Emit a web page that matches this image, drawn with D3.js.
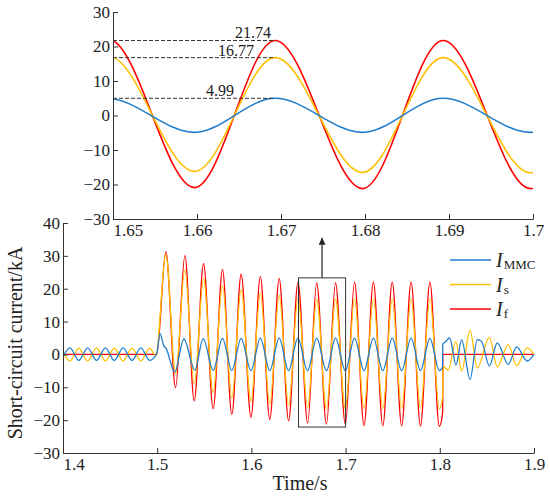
<!DOCTYPE html>
<html>
<head>
<meta charset="utf-8">
<script src="https://d3js.org/d3.v7.min.js"></script>
<style>
  body { margin: 0; background: #fff; }
  svg { font-family: "Liberation Serif", "Times New Roman", serif; }
  .axis path, .axis line { stroke: #333; stroke-width: 1; }
  .axis text { font-size: 17px; fill: #222; font-family: "Liberation Serif", serif; }
  .wave { fill: none; }
</style>
</head>
<body>
<script>

// waveform break points: [time (s), current (kA)]
// (peaks, troughs and switching instants; drawn with a monotone curve)
var iMMC = [
  [1.4, -0.6], [1.4074, 2.0], [1.4168, -1.8], [1.4262, 2.0], [1.4356, -1.8],
  [1.445, 2.0], [1.4544, -1.8], [1.4638, 2.0], [1.4732, -1.8], [1.4826, 2.0],
  [1.492, -1.8], [1.4995, 0.3], [1.503, 6.4], [1.5065, 3.0], [1.5105, 1.2],
  [1.514, -2.2], [1.5185, -5.4], [1.5283, 4.7], [1.540, -4.8], [1.5488, 4.8],
  [1.5594, -4.8], [1.5693, 4.9], [1.5792, -4.9], [1.5891, 4.9], [1.5995, -4.9],
  [1.6095, 4.95], [1.6195, -4.9], [1.6295, 4.99], [1.6395, -4.9], [1.6493, 4.99],
  [1.6597, -4.9], [1.6693, 4.99], [1.6797, -4.9], [1.6893, 4.99], [1.6997, -4.9],
  [1.7095, 4.99], [1.7195, -4.9], [1.7295, 4.99], [1.7395, -4.9], [1.7495, 4.99],
  [1.7595, -4.9], [1.7695, 4.99], [1.7795, -4.9], [1.7895, 4.9], [1.7995, -4.9],
  [1.8029, -3.8], [1.8032, 3.2], [1.806, 3.8], [1.8105, 5.0], [1.8172, -3.2],
  [1.8232, 4.4], [1.8321, -7.6], [1.8398, 4.5], [1.8445, 3.9], [1.8526, -3.5],
  [1.861, 3.5], [1.8727, -3.0], [1.8816, 2.3], [1.8929, -2.0], [1.9, 0]
];

var iS = [
  [1.4, 0.6], [1.4074, -2.0], [1.4168, 1.9], [1.4262, -2.0], [1.4356, 1.9],
  [1.445, -2.0], [1.4544, 1.9], [1.4638, -2.0], [1.4732, 1.9], [1.4826, -2.0],
  [1.492, 1.9], [1.4985, -0.4], [1.5092, 30.3], [1.5195, -6.0], [1.5294, 25.8],
  [1.5393, -9.1], [1.5492, 22.9], [1.5594, -11.6], [1.5693, 21.0], [1.5792, -13.4],
  [1.5891, 19.7], [1.5995, -14.3], [1.6095, 18.7], [1.6195, -15.2], [1.6295, 18.0],
  [1.6395, -15.5], [1.6495, 17.2], [1.6597, -16.2], [1.6693, 16.77], [1.6797, -16.5],
  [1.6893, 16.77], [1.6997, -16.6], [1.7095, 16.9], [1.7195, -16.5], [1.7295, 16.9],
  [1.7395, -16.5], [1.7495, 16.9], [1.7595, -16.5], [1.7695, 16.9], [1.7795, -16.5],
  [1.7895, 16.9], [1.7995, -16.6], [1.8031, -12.5], [1.8033, -3.6], [1.809, -4.8],
  [1.8169, 4.0], [1.8232, -5.0], [1.8321, 7.3], [1.8398, -4.1], [1.8526, 5.2],
  [1.861, -3.8], [1.8727, 3.0], [1.8816, -3.4], [1.8929, 2.0], [1.9, 0]
];

var iF = [
  [1.4, 0], [1.4995, 0], [1.5092, 31.3], [1.5195, -10.1], [1.5294, 30.1],
  [1.5393, -14.1], [1.5492, 27.6], [1.5594, -16.5], [1.5693, 25.8], [1.5792, -18.2],
  [1.5891, 24.4], [1.5995, -19.1], [1.6095, 23.7], [1.6195, -19.8], [1.6295, 23.1],
  [1.6395, -20.2], [1.6495, 22.0], [1.6597, -20.9], [1.6693, 21.74], [1.6797, -21.2],
  [1.6893, 21.74], [1.6997, -21.2], [1.7095, 22.0], [1.7195, -21.6], [1.7295, 22.0],
  [1.7395, -21.7], [1.7495, 22.0], [1.7595, -21.7], [1.7695, 22.0], [1.7795, -21.8],
  [1.7895, 22.0], [1.7995, -21.9], [1.8031, -17.5], [1.8032, 0], [1.9, 0]
];

var seriesSubs = ["MMC", "s", "f"];
var seriesColors = ["#1f7ccc", "#ffc000", "#ff0000"];

var peakTime = 1.6693;
var peakValues = [21.74, 16.77, 4.99];
var peakLabels = ["21.74", "16.77", "4.99"];

var mainTicksX = [1.4, 1.5, 1.6, 1.7, 1.8, 1.9];
var mainTicksY = [-30, -20, -10, 0, 10, 20, 30, 40];
var zoomTicksX = [1.65, 1.66, 1.67, 1.68, 1.69, 1.7];
var zoomTicksY = [-30, -20, -10, 0, 10, 20, 30];

var zoomWindow = [1.65, 1.70];
var zoomBoxY = [-22.1, 23.3];
var arrowTipY = 35.5;

var W = 550, H = 499;

var svg = d3.select("body").append("svg")
    .attr("width", W)
    .attr("height", H);

function fmt(d) { return d < 0 ? "\u2212" + Math.abs(d) : String(d); }

// scales
var xM = d3.scaleLinear().domain([1.4, 1.9]).range([63, 534]);
var yM = d3.scaleLinear().domain([-30, 40]).range([453, 223]);
var xZ = d3.scaleLinear().domain(zoomWindow).range([113, 533]);
var yZ = d3.scaleLinear().domain([-30, 30]).range([219, 12]);

var allSeries = [iMMC, iS, iF];
var drawOrder = [2, 1, 0];   // red under yellow under blue

function addClip(id, xs, ys) {
  svg.append("clipPath").attr("id", id).append("rect")
    .attr("x", xs.range()[0]).attr("y", ys.range()[1])
    .attr("width", xs.range()[1] - xs.range()[0])
    .attr("height", ys.range()[0] - ys.range()[1]);
}
addClip("clipM", xM, yM);
addClip("clipZ", xZ, yZ);

function drawWaves(xs, ys, clip, width) {
  var line = d3.line()
      .x(function(d) { return xs(d[0]); })
      .y(function(d) { return ys(d[1]); })
      .curve(d3.curveMonotoneX);
  var g = svg.append("g").attr("clip-path", "url(#" + clip + ")");
  drawOrder.forEach(function(k) {
    g.append("path")
      .attr("class", "wave")
      .attr("d", line(allSeries[k]))
      .attr("stroke", seriesColors[k])
      .attr("stroke-width", width);
  });
}

/////////////////////////
// main panel

drawWaves(xM, yM, "clipM", 1.3);

var axM_x = svg.append("g").attr("class", "axis")
    .attr("transform", "translate(0," + yM(-30) + ")")
    .call(d3.axisBottom(xM).tickValues(mainTicksX).tickFormat(fmt)
      .tickSizeInner(-5).tickSizeOuter(0).tickPadding(5));
axM_x.selectAll(".tick text").filter(function(d, i) { return i === 0; })
    .attr("text-anchor", "start");

svg.append("g").attr("class", "axis")
    .attr("transform", "translate(" + xM(1.4) + ",0)")
    .call(d3.axisLeft(yM).tickValues(mainTicksY).tickFormat(fmt)
      .tickSizeInner(-5).tickSizeOuter(0).tickPadding(3));

// zoom box and arrow
svg.append("defs").append("marker")
    .attr("id", "arrow")
    .attr("viewBox", "0 0 10 10")
    .attr("refX", 10).attr("refY", 5)
    .attr("markerWidth", 7).attr("markerHeight", 7)
    .attr("markerUnits", "userSpaceOnUse")
    .attr("orient", "auto")
  .append("path")
    .attr("d", "M0,0L10,5L0,10z")
    .attr("fill", "#222");

svg.append("rect")
    .attr("x", xM(zoomWindow[0]))
    .attr("y", yM(zoomBoxY[1]))
    .attr("width", xM(zoomWindow[1]) - xM(zoomWindow[0]))
    .attr("height", yM(zoomBoxY[0]) - yM(zoomBoxY[1]))
    .attr("fill", "none")
    .attr("stroke", "#333")
    .attr("stroke-width", 1);

var midT = (zoomWindow[0] + zoomWindow[1]) / 2;
svg.append("line")
    .attr("x1", xM(midT)).attr("x2", xM(midT))
    .attr("y1", yM(zoomBoxY[1])).attr("y2", yM(arrowTipY))
    .attr("stroke", "#222")
    .attr("stroke-width", 1.2)
    .attr("marker-end", "url(#arrow)");

// legend
var legend = svg.append("g");
[0, 1, 2].forEach(function(k) {
  var ly = 260 + k * 24.5;
  legend.append("line")
    .attr("x1", 450).attr("x2", 491)
    .attr("y1", ly).attr("y2", ly)
    .attr("stroke", seriesColors[k])
    .attr("stroke-width", 1.3);
  var t = legend.append("text")
    .attr("x", 496).attr("y", ly + 7)
    .attr("fill", "#222");
  t.append("tspan").attr("font-style", "italic").attr("font-size", 20).text("I");
  t.append("tspan").attr("font-size", 13).attr("dy", 2).attr("dx", 1).text(seriesSubs[k]);
});

// axis titles
svg.append("text")
    .attr("transform", "translate(21.5,343) rotate(-90)")
    .attr("text-anchor", "middle")
    .attr("font-size", 20)
    .attr("fill", "#222")
    .text("Short-circuit current/kA");

svg.append("text")
    .attr("x", 300).attr("y", 490)
    .attr("text-anchor", "middle")
    .attr("font-size", 20)
    .attr("fill", "#222")
    .text("Time/s");

/////////////////////////
// zoomed panel

drawWaves(xZ, yZ, "clipZ", 1.6);

var labelDx = [-4, -21, -41];
peakValues.forEach(function(v, k) {
  svg.append("line")
    .attr("x1", xZ(zoomWindow[0])).attr("x2", xZ(peakTime))
    .attr("y1", yZ(v)).attr("y2", yZ(v))
    .attr("stroke", "#333")
    .attr("stroke-width", 1)
    .attr("stroke-dasharray", "4,2");
  svg.append("text")
    .attr("x", xZ(peakTime) + labelDx[k])
    .attr("y", yZ(v) - 2)
    .attr("text-anchor", "end")
    .attr("font-size", 16)
    .attr("fill", "#222")
    .text(peakLabels[k]);
});

var axZ_x = svg.append("g").attr("class", "axis")
    .attr("transform", "translate(0," + yZ(-30) + ")")
    .call(d3.axisBottom(xZ).tickValues(zoomTicksX).tickFormat(fmt)
      .tickSizeInner(-5).tickSizeOuter(0).tickPadding(5));
axZ_x.selectAll(".tick text").filter(function(d, i) { return i === 0; })
    .attr("text-anchor", "start");

svg.append("g").attr("class", "axis")
    .attr("transform", "translate(" + xZ(zoomWindow[0]) + ",0)")
    .call(d3.axisLeft(yZ).tickValues(zoomTicksY).tickFormat(fmt)
      .tickSizeInner(-5).tickSizeOuter(0).tickPadding(3));

</script>
</body>
</html>
